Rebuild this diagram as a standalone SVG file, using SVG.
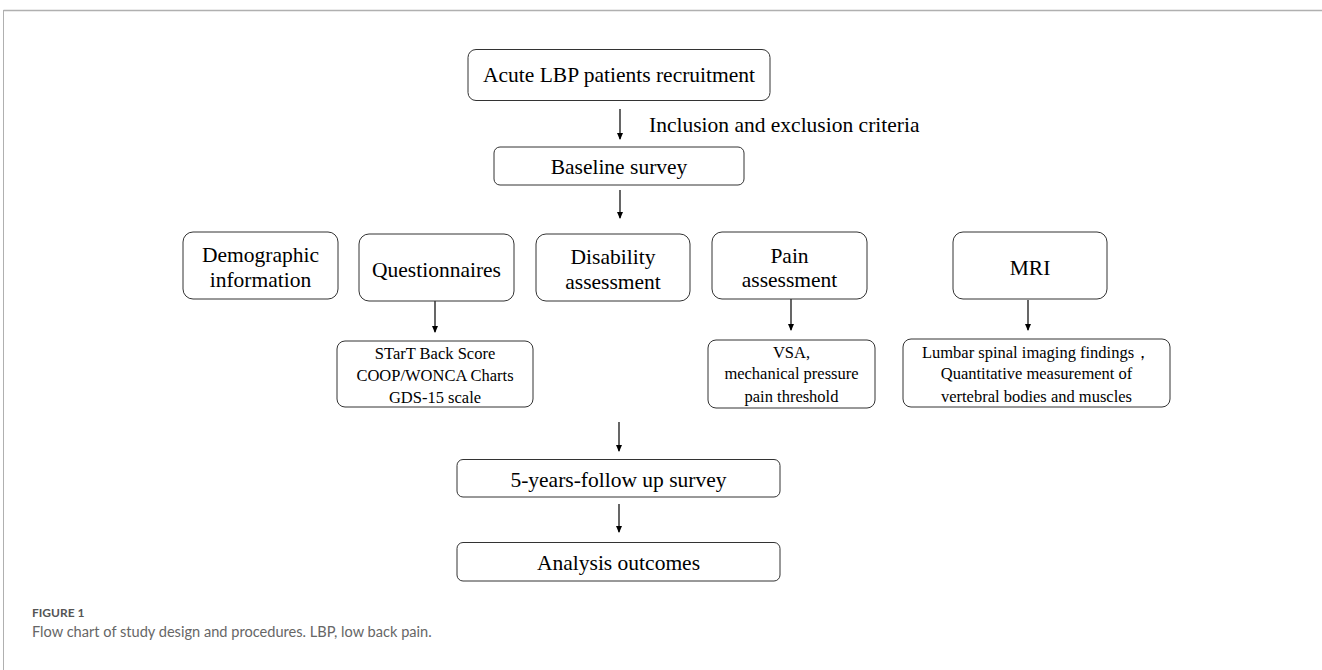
<svg xmlns="http://www.w3.org/2000/svg" width="1322" height="670" viewBox="0 0 1322 670">
<style>
.box{fill:#fff;stroke:#333;stroke-width:1}
.t{font-family:"Liberation Serif","Times New Roman",serif;font-size:21.5px;fill:#000;text-anchor:middle}
.s{font-family:"Liberation Serif","Times New Roman",serif;font-size:16.5px;fill:#000;text-anchor:middle}
.c{stroke:#000;stroke-width:1.2;fill:none}
.cap1{font-family:"Lato","Open Sans",sans-serif;font-size:12px;fill:#555;font-weight:700}
.cap2{font-family:"Lato","Open Sans",sans-serif;font-size:14.6px;fill:#666}
</style>
<rect width="1322" height="670" fill="#fff"/>
<g id="frame">
<line x1="3.5" y1="10.5" x2="1322" y2="10.5" stroke="#b0b0b0" stroke-width="1.5"/>
<line x1="3.5" y1="10" x2="3.5" y2="670" stroke="#b0b0b0" stroke-width="1"/>
</g>
<g id="connectors">
<line class="c" x1="620" y1="109" x2="620" y2="139"/>
<path d="M617,133 L623,133 L620,140 Z"/>
<line class="c" x1="620" y1="190" x2="620" y2="218"/>
<path d="M617,212 L623,212 L620,219 Z"/>
<line class="c" x1="435" y1="301" x2="435" y2="332"/>
<path d="M432,326 L438,326 L435,333 Z"/>
<line class="c" x1="791" y1="299" x2="791" y2="330"/>
<path d="M788,324 L794,324 L791,331 Z"/>
<line class="c" x1="1028" y1="300" x2="1028" y2="330"/>
<path d="M1025,324 L1031,324 L1028,331 Z"/>
<line class="c" x1="619" y1="422" x2="619" y2="451"/>
<path d="M616,445 L622,445 L619,452 Z"/>
<line class="c" x1="619" y1="504" x2="619" y2="532"/>
<path d="M616,526 L622,526 L619,533 Z"/>
<text x="649" y="132" font-family="Liberation Serif, Times New Roman, serif" font-size="21.5">Inclusion and exclusion criteria</text>
</g>
<g id="recruit">
<rect class="box" x="468" y="49.5" width="302" height="51" rx="8"/>
<text class="t" x="619" y="82">Acute LBP patients recruitment</text>
</g>
<g id="baseline">
<rect class="box" x="494" y="147" width="250" height="38" rx="6"/>
<text class="t" x="619" y="174">Baseline survey</text>
</g>
<g id="demographic">
<rect class="box" x="183" y="232" width="155" height="67" rx="10"/>
<text class="t" x="260.5" y="262">Demographic</text>
<text class="t" x="260.5" y="287">information</text>
</g>
<g id="questionnaires">
<rect class="box" x="359" y="234" width="155" height="67" rx="10"/>
<text class="t" x="436.5" y="277">Questionnaires</text>
</g>
<g id="disability">
<rect class="box" x="536" y="234" width="154" height="67" rx="10"/>
<text class="t" x="613" y="264">Disability</text>
<text class="t" x="613" y="289">assessment</text>
</g>
<g id="pain">
<rect class="box" x="712" y="232" width="155" height="67" rx="10"/>
<text class="t" x="789.5" y="263">Pain</text>
<text class="t" x="789.5" y="287">assessment</text>
</g>
<g id="mri">
<rect class="box" x="953" y="232" width="154" height="67" rx="10"/>
<text class="t" x="1030" y="275">MRI</text>
</g>
<g id="qsub">
<rect class="box" x="337" y="341" width="196" height="66" rx="8"/>
<text class="s" x="435" y="359">STarT Back Score</text>
<text class="s" x="435" y="381">COOP/WONCA Charts</text>
<text class="s" x="435" y="403">GDS-15 scale</text>
</g>
<g id="painsub">
<rect class="box" x="708" y="340" width="167" height="68" rx="8"/>
<text class="s" x="791.5" y="358">VSA,</text>
<text class="s" x="791.5" y="379">mechanical pressure</text>
<text class="s" x="791.5" y="402">pain threshold</text>
</g>
<g id="mrisub">
<rect class="box" x="903" y="339" width="267" height="68" rx="8"/>
<text class="s" x="1036.5" y="358">Lumbar spinal imaging findings，</text>
<text class="s" x="1036.5" y="379">Quantitative measurement of</text>
<text class="s" x="1036.5" y="402">vertebral bodies and muscles</text>
</g>
<g id="followup">
<rect class="box" x="457" y="459.5" width="323" height="37.5" rx="6"/>
<text class="t" x="618.5" y="487">5-years-follow up survey</text>
</g>
<g id="analysis">
<rect class="box" x="457" y="542.5" width="323" height="38.5" rx="6"/>
<text class="t" x="618.5" y="570">Analysis outcomes</text>
</g>
<g id="caption">
<text class="cap1" x="32" y="617">FIGURE 1</text>
<text class="cap2" x="32" y="637">Flow chart of study design and procedures. LBP, low back pain.</text>
</g>
</svg>
